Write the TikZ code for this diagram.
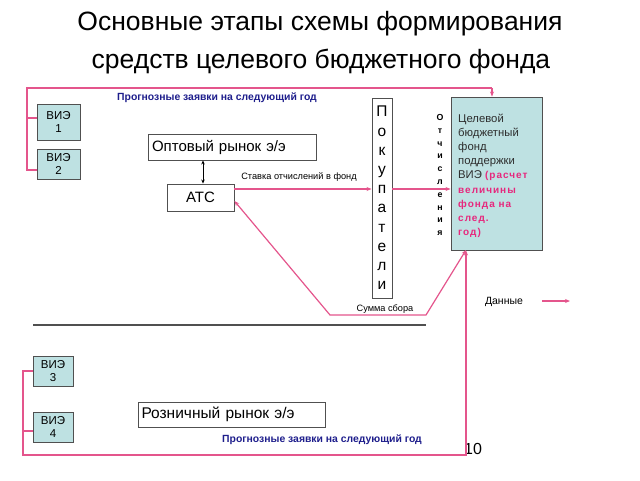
\documentclass[tikz,border=0pt]{standalone}
\usepackage{fontspec}
\setmainfont{Liberation Sans}
\usetikzlibrary{arrows.meta}
\definecolor{pk}{RGB}{228,85,140}
\definecolor{pktxt}{RGB}{230,40,125}
\definecolor{navy}{RGB}{30,30,140}
\definecolor{teal}{RGB}{190,225,226}
\definecolor{bord}{RGB}{80,80,80}
\definecolor{txtgray}{RGB}{45,45,45}
\newcommand{\pkpart}[1]{{\color{pktxt}\bfseries\fontsize{10}{14.1}\addfontfeature{LetterSpace=10}\selectfont #1}}
\tikzset{
  viebox/.style={draw=bord,line width=0.9pt,fill=teal,inner sep=0pt,align=center,font=\fontsize{11.5}{13}\selectfont},
  whitebox/.style={draw=bord,line width=0.9pt,fill=white,inner sep=0pt},
  pline/.style={draw=pk,line width=1.2pt},
  parrow/.style={pline,-{Stealth[length=5pt,width=4pt]}},
  bluelbl/.style={text=navy,font=\bfseries\fontsize{10.4}{12}\selectfont,inner sep=0pt},
  smalllbl/.style={text=black,font=\fontsize{9.2}{11}\selectfont,inner sep=0pt},
  titlefont/.style={font=\fontsize{26.5}{30}\selectfont,anchor=base,inner sep=0pt},
}
\begin{document}
\begin{tikzpicture}[x=1pt,y=-1pt]
\useasboundingbox (0,0) rectangle (640,480);
% title
\node[titlefont] (title1) at (320,30) {Основные этапы схемы формирования};
\node[titlefont] (title2) at (321,68) {средств целевого бюджетного фонда};
% boxes
\node[viebox,minimum width=43pt,minimum height=36pt] (v1) at (58.5,122) {ВИЭ\\1};
\node[viebox,minimum width=43pt,minimum height=30pt] (v2) at (58.5,164) {ВИЭ\\2};
\node[viebox,minimum width=40pt,minimum height=30pt] (v3) at (53,371) {ВИЭ\\3};
\node[viebox,minimum width=40pt,minimum height=30pt] (v4) at (53,427) {ВИЭ\\4};
\node[whitebox,minimum width=168pt,minimum height=26pt,font=\fontsize{15}{17}\selectfont,text width=160pt,align=left] (opt) at (232,147) {Оптовый рынок э/э};
\node[whitebox,minimum width=67pt,minimum height=27pt,font=\fontsize{15}{17}\selectfont] (atc) at (200.5,197.5) {АТС};
\node[whitebox,minimum width=187pt,minimum height=25pt,font=\fontsize{15.5}{17}\selectfont,text width=180pt,align=left] (rozn) at (231.5,414.5) {Розничный рынок э/э};
\node[whitebox,minimum width=20pt,minimum height=200pt,font=\fontsize{15.5}{19.2}\selectfont,align=center] (pok) at (382,198)
  {П\\о\\к\\у\\п\\а\\т\\е\\л\\и};
\node[viebox,minimum width=91pt,minimum height=153pt] (fund) at (496.5,173.5) {};
\node[anchor=north west,inner sep=0pt,align=left,text=txtgray,font=\fontsize{11.3}{14.1}\selectfont] (fundtxt) at (458,114)
  {Целевой\\бюджетный\\фонд\\поддержки\\ВИЭ \pkpart{(расчет}\\
   \pkpart{величины}\\
   \pkpart{фонда на}\\
   \pkpart{след.}\\
   \pkpart{год)}};
\node[inner sep=0pt,align=center,font=\bfseries\fontsize{8.8}{12.8}\selectfont] (otch) at (440,175)
  {О\\т\\ч\\и\\с\\л\\е\\н\\и\\я};
% labels
\node[bluelbl] (lbltop) at (217,98) {Прогнозные заявки на следующий год};
\node[bluelbl] (lblbot) at (322,440) {Прогнозные заявки на следующий год};
\node[smalllbl] (lblst) at (299,177) {Ставка отчислений в фонд};
\node[smalllbl] (lblsum) at (385,309) {Сумма сбора};
\node[smalllbl,font=\fontsize{10.5}{12}\selectfont] (lbldata) at (504,302) {Данные};
\node[inner sep=0pt,font=\fontsize{16}{18}\selectfont] (ten) at (473,449) {10};
% top bracket
\coordinate (tl) at (27,88);
\coordinate (tr) at (492,88);
\coordinate (s1) at (27,118);
\coordinate (s2) at (27,170);
\draw[pline] (s1) -- (s1 -| v1.west);
\draw[pline] (s2 -| v2.west) -- (s2) -- (tl) -- (tr);
\draw[parrow] (tr) -- (tr |- fund.north);
% opt <-> atc
\coordinate (oa) at (203,160);
\draw[line width=0.9pt,{Stealth[length=4pt,width=3.5pt]}-{Stealth[length=4pt,width=3.5pt]}] (oa |- opt.south) -- (oa |- atc.north);
% atc -> pok -> fund
\coordinate (a1) at ([yshift=8.5pt]atc.east);
\draw[parrow] (a1) -- (a1 -| pok.west);
\draw[parrow] (a1 -| pok.east) -- (a1 -| fund.west);
% summa sbora
\coordinate (sumA) at ([yshift=-3.5pt]atc.east);
\coordinate (sumB) at (330,315);
\coordinate (sumC) at (426,315);
\coordinate (sumD) at (466,250);
\draw[pline,{Stealth[length=5pt,width=4pt]}-{Stealth[length=5pt,width=4pt]}] (sumA) -- (sumB) -- (sumC) -- (sumD);
% divider
\coordinate (d1) at (33,325);
\coordinate (d2) at (426,325);
\draw[draw=bord,line width=1.2pt] (d1) -- (d2);
% bottom bracket
\coordinate (b1) at (23,371);
\coordinate (b2) at (23,431);
\coordinate (b3) at (23,455);
\coordinate (b4) at (466,455);
\draw[pline] (b2) -- (b2 -| v4.west);
\draw[parrow] (v3.west) -- (b1) -- (b3) -- (b4) -- (b4 |- fund.south);
% legend
\coordinate (lg1) at (542,301);
\coordinate (lg2) at (570,301);
\draw[parrow] (lg1) -- (lg2);
\end{tikzpicture}
\end{document}
